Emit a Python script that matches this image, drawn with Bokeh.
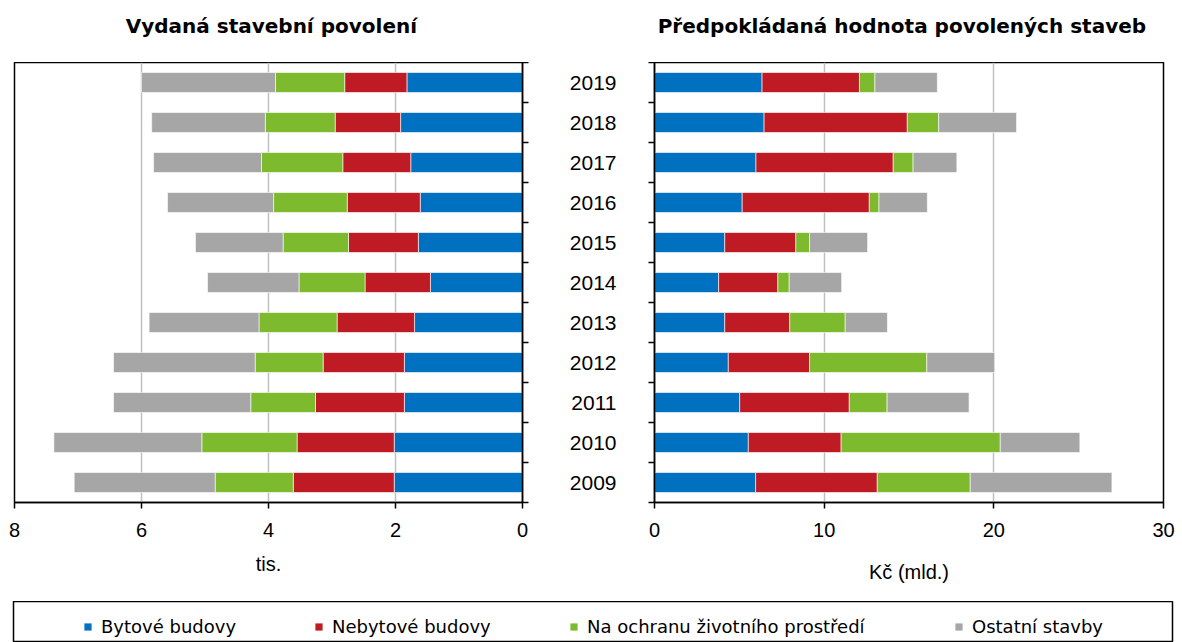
from bokeh.plotting import figure
from bokeh.models import (ColumnDataSource, Range1d, FixedTicker, Legend, LegendItem, Label)
from bokeh.layouts import row, column
from bokeh.embed import file_html
from bokeh.resources import INLINE

# ---- data ----
years = [2009, 2010, 2011, 2012, 2013, 2014, 2015, 2016, 2017, 2018, 2019]
series_names = ["Bytové budovy", "Nebytové budovy", "Na ochranu životního prostředí", "Ostatní stavby"]
titles = ["Vydaná stavební povolení", "Předpokládaná hodnota povolených staveb"]

# Vydaná stavební povolení (tis.)
permits_byt = [2.02, 2.02, 1.86, 1.86, 1.70, 1.45, 1.64, 1.61, 1.76, 1.92, 1.82]
permits_nebyt = [1.59, 1.53, 1.40, 1.28, 1.22, 1.03, 1.10, 1.15, 1.07, 1.03, 0.98]
permits_ochr = [1.23, 1.50, 1.02, 1.07, 1.23, 1.04, 1.03, 1.16, 1.28, 1.10, 1.09]
permits_ost = [2.22, 2.33, 2.16, 2.23, 1.73, 1.44, 1.38, 1.67, 1.70, 1.79, 2.11]

# Předpokládaná hodnota povolených staveb (Kč mld.)
value_byt = [5.96, 5.53, 5.02, 4.35, 4.14, 3.78, 4.14, 5.17, 5.98, 6.46, 6.34]
value_nebyt = [7.17, 5.47, 6.46, 4.79, 3.83, 3.49, 4.19, 7.49, 8.09, 8.44, 5.74]
value_ochr = [5.48, 9.38, 2.23, 6.91, 3.27, 0.67, 0.81, 0.57, 1.17, 1.85, 0.91]
value_ost = [8.35, 4.69, 4.83, 4.00, 2.49, 3.09, 3.42, 2.85, 2.58, 4.59, 3.68]

left_ticks = [0, 2, 4, 6, 8]
right_ticks = [0, 10, 20, 30]

# ---- styles ----
colors = ["#0070C0", "#BE1B24", "#7DBA2D", "#A6A6A6"]
FONT = "Liberation Sans"
TFONT = "DejaVu Sans"
stackers = ["byt", "nebyt", "ochr", "ost"]
boundaries = [y - 0.5 for y in years] + [years[-1] + 0.5]

src_left = ColumnDataSource(dict(year=years, byt=permits_byt, nebyt=permits_nebyt,
                                 ochr=permits_ochr, ost=permits_ost))
src_right = ColumnDataSource(dict(year=years, byt=value_byt, nebyt=value_nebyt,
                                  ochr=value_ochr, ost=value_ost))


def style_common(p):
    p.background_fill_color = "white"
    p.border_fill_color = "white"
    p.outline_line_color = "black"
    p.outline_line_width = 1.5
    p.ygrid.visible = False
    p.xgrid.grid_line_color = "#C0C0C0"
    p.xgrid.grid_line_width = 1.5
    for ax in p.axis:
        ax.axis_line_color = "black"
        ax.axis_line_width = 1.5
        ax.major_tick_line_color = "black"
        ax.major_tick_line_width = 1.5
        ax.minor_tick_line_color = "black"
        ax.minor_tick_line_width = 1.5
        ax.major_label_text_font = FONT
        ax.major_label_text_font_size = "20px"
        ax.major_label_text_color = "black"
        ax.axis_label_text_font = FONT
        ax.axis_label_text_font_size = "20px"
        ax.axis_label_text_font_style = "normal"
        ax.axis_label_text_color = "black"


# ---- title strip ----
pt = figure(width=1182, height=62, output_backend="svg", toolbar_location=None,
            x_range=Range1d(0, 1182), y_range=Range1d(0, 62),
            x_axis_location=None, y_axis_location=None, min_border=0)
pt.grid.visible = False
pt.outline_line_color = None
pt.background_fill_color = "white"
pt.border_fill_color = "white"
for txt, cx in zip(titles, [263, 906]):
    pt.add_layout(Label(x=cx, y=37, text=txt, text_align="center", text_baseline="middle",
                        text_font=TFONT, text_font_size="20px", text_font_style="bold",
                        text_color="black"))

# ---- left chart ----
p1 = figure(width=542, height=539, output_backend="svg", toolbar_location=None,
            x_range=Range1d(8, 0), y_range=Range1d(years[0] - 0.5, years[-1] + 0.5),
            y_axis_location="right",
            min_border_left=14, min_border_right=20, min_border_top=0, min_border_bottom=99)
p1.hbar_stack(stackers, y="year", height=0.5, source=src_left, fill_color=colors,
              line_color="white", line_width=1, line_alpha=0.6)
style_common(p1)
p1.xaxis.ticker = FixedTicker(ticks=left_ticks)
p1.xgrid.ticker = FixedTicker(ticks=left_ticks)
p1.xaxis.major_tick_out = 6
p1.xaxis.major_tick_in = 0
p1.xaxis.major_label_standoff = 14
p1.xaxis.minor_tick_line_color = None
p1.xaxis.axis_label = "tis."
p1.xaxis.axis_label_standoff = 13
p1.yaxis.ticker = FixedTicker(ticks=[], minor_ticks=boundaries)
p1.yaxis.minor_tick_out = 6
p1.yaxis.minor_tick_in = 0
p1.yaxis.major_label_text_font_size = "0px"

# ---- right chart ----
p2 = figure(width=640, height=539, output_backend="svg", toolbar_location=None,
            x_range=Range1d(0, 30), y_range=Range1d(years[0] - 0.5, years[-1] + 0.5),
            min_border_left=112, min_border_right=19, min_border_top=0, min_border_bottom=99)
p2.hbar_stack(stackers, y="year", height=0.5, source=src_right, fill_color=colors,
              line_color="white", line_width=1, line_alpha=0.6)
style_common(p2)
p2.xaxis.ticker = FixedTicker(ticks=right_ticks)
p2.xgrid.ticker = FixedTicker(ticks=right_ticks)
p2.xaxis.major_tick_out = 6
p2.xaxis.major_tick_in = 0
p2.xaxis.major_label_standoff = 14
p2.xaxis.minor_tick_line_color = None
p2.xaxis.axis_label = "Kč (mld.)"
p2.xaxis.axis_label_standoff = 21
p2.yaxis.ticker = FixedTicker(ticks=years, minor_ticks=boundaries)
p2.yaxis.major_tick_out = 0
p2.yaxis.major_tick_in = 0
p2.yaxis.minor_tick_out = 6
p2.yaxis.minor_tick_in = 0
p2.yaxis.major_label_standoff = 32
p2.yaxis.major_label_text_font_size = "21px"
p2.yaxis.major_label_overrides = {y: str(y) for y in years}

# ---- legend strip ----
p3 = figure(width=1182, height=41, output_backend="svg", toolbar_location=None,
            x_range=Range1d(0, 1), y_range=Range1d(0, 1),
            x_axis_location=None, y_axis_location=None,
            min_border_left=13, min_border_right=10, min_border_top=0, min_border_bottom=0)
p3.grid.visible = False
p3.outline_line_color = "black"
p3.outline_line_width = 1.5
p3.background_fill_color = "white"
p3.border_fill_color = "white"
legend_x = [70, 301, 556, 941]
for name, c, lx in zip(series_names, colors, legend_x):
    r = p3.hbar(y=[5], right=[5], left=[4], height=0.1, fill_color=c, line_color=None)
    leg = Legend(items=[LegendItem(label=name, renderers=[r])], location=(lx, 5),
                 orientation="horizontal", border_line_color=None, background_fill_alpha=0,
                 padding=0, margin=0, glyph_width=9, glyph_height=9, label_standoff=9,
                 label_text_font=TFONT, label_text_font_size="18px", label_text_color="black")
    p3.add_layout(leg, "center")

layout = column(pt, row(p1, p2, spacing=0), p3, spacing=0)
open("out.html", "w").write(file_html(layout, INLINE))
